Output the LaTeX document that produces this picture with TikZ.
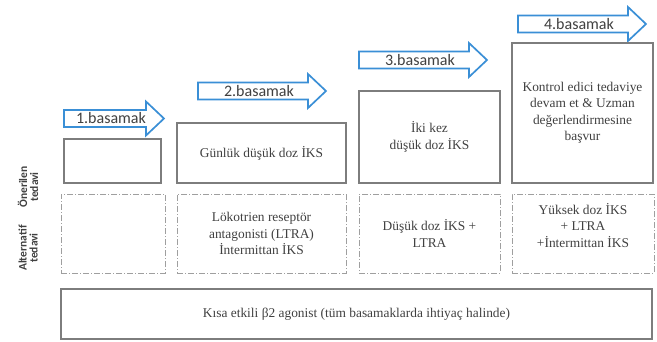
\documentclass[tikz,border=0pt]{standalone}
\usepackage{fontspec}
\setmainfont{Liberation Serif}
\newfontfamily\basfont{Carlito}
\definecolor{okmavi}{RGB}{58,143,214}
\definecolor{kutugri}{RGB}{125,125,125}
\definecolor{yazigri}{RGB}{64,64,64}

\begin{document}
\begin{tikzpicture}[x=1pt,y=-1pt,
  kutu/.style={draw=kutugri,line width=1.3pt,text=yazigri,align=center,inner sep=0pt,
    font=\fontsize{13.4}{16.5}\selectfont},
  alt/.style={kutu,draw=gray!75,line width=.9pt,dash pattern=on 6pt off 2pt on 1pt off 2pt},
  ok/.style={draw=okmavi,line width=1.7pt,fill=white,line join=miter},
  etiket/.style={text=yazigri,font=\basfont\fontsize{16}{16}\selectfont},
  yan/.style={text=yazigri,align=center,rotate=90,font=\basfont\bfseries\fontsize{11.5}{11}\selectfont}]
  \useasboundingbox (0,0) rectangle (657,341);
  % basamak oklari
  \foreach \n/\xa/\ya/\ln in {1/64/118.5/100,2/198/91/128,3/359/60/128,4/518/24/128}{
    \draw[ok] (\xa,\ya-8.5)--++(\ln-18,0)--++(0,-8.5)--(\xa+\ln,\ya)--(\xa+\ln-18,\ya+17)
      --++(0,-8.5)--(\xa,\ya+8.5)--cycle;
    \node[etiket] (b\n) at (\xa+\ln/2-3,\ya) {\n.basamak};
  }
  % onerilen tedavi
  \node[kutu,minimum width=97,minimum height=44] (o1) at (112.5,161) {};
  \node[kutu,minimum width=169,minimum height=60] (o2) at (261.5,153) {Günlük düşük doz İKS};
  \node[kutu,minimum width=141,minimum height=92] (o3) at (429.5,137) {İki kez\\düşük doz İKS};
  \node[kutu,minimum width=141,minimum height=140] (o4) at (582.5,113)
    {Kontrol edici tedaviye\\devam et \& Uzman\\değerlendirmesine\\başvur};
  % alternatif tedavi
  \node[alt,minimum width=104,minimum height=79] (a1) at (113,233.5) {};
  \node[alt,minimum width=169,minimum height=79] (a2) at (261.5,233.5)
    {Lökotrien reseptör\\antagonisti (LTRA)\\İntermittan İKS};
  \node[alt,minimum width=141,minimum height=79] (a3) at (429.5,233.5) {Düşük doz İKS +\\LTRA};
  \node[alt,minimum width=142,minimum height=79] (a4) at (583,233.5) {};
  \node[text=yazigri,align=center,font=\fontsize{13.4}{16.5}\selectfont] (a4m) at ([yshift=8]a4.center)
    {Yüksek doz İKS\\+ LTRA\\+İntermittan İKS};
  % her basamakta
  \node[kutu,minimum width=591,minimum height=50] (kisa) at (356.5,314)
    {Kısa etkili β2 agonist (tüm basamaklarda ihtiyaç halinde)};
  \node[yan] (oner) at (28,187) {Önerilen\\tedavi};
  \node[yan] (alter) at (28,248) {Alternatif\\tedavi};
\end{tikzpicture}
\end{document}
